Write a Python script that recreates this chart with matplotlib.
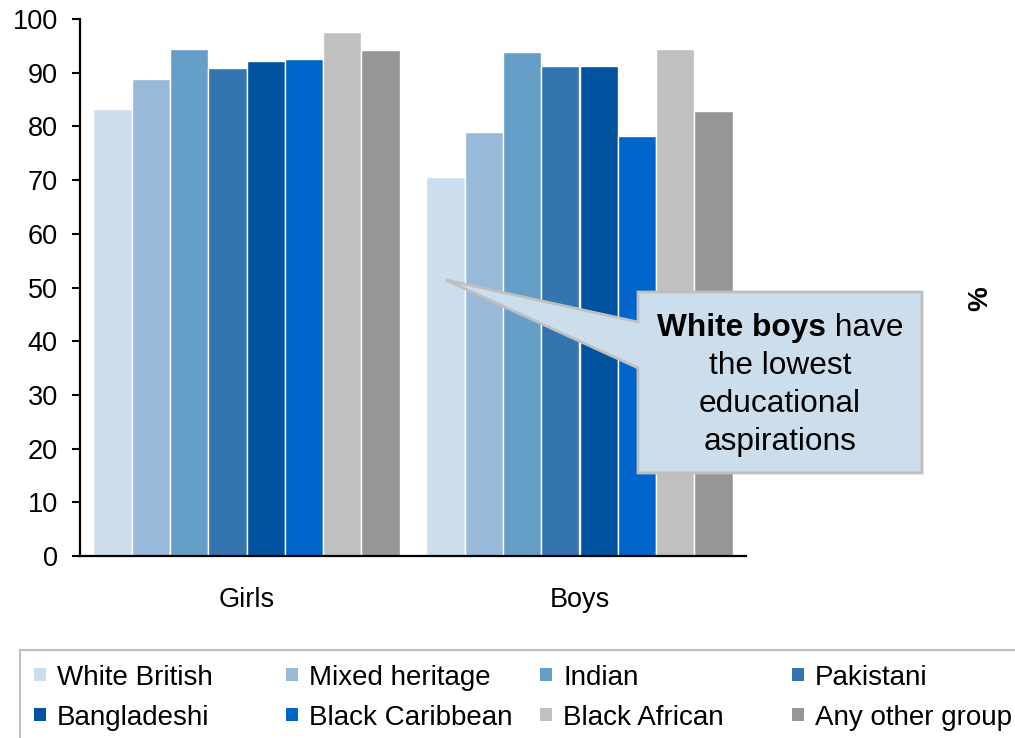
import matplotlib
matplotlib.use("Agg")
import matplotlib.pyplot as plt
from matplotlib.patches import Polygon, Rectangle

plt.rcParams['font.family'] = ['Liberation Sans', 'DejaVu Sans']

# Data
groups = ["Girls", "Boys"]
ethnicities = ["White British", "Mixed heritage", "Indian", "Pakistani",
               "Bangladeshi", "Black Caribbean", "Black African", "Any other group"]
girls = [83.2, 88.8, 94.5, 90.9, 92.2, 92.6, 97.5, 94.2]
boys = [70.6, 78.9, 93.9, 91.2, 91.2, 78.2, 94.5, 82.9]
colors = ["#CCDDEB", "#99B9D8", "#659EC7", "#3474B0",
          "#00539F", "#0066CC", "#C0C0C0", "#969696"]
y_ticks = list(range(0, 101, 10))

W, H = 1015, 738
fig = plt.figure(figsize=(W / 100, H / 100), dpi=100)


def fx(x):
    return x / W


def fy(y):
    return 1 - y / H


ax = fig.add_axes([fx(80), fy(556), fx(746) - fx(80), fy(19) - fy(556)])

bar_w = 0.115
series = [girls, boys]
for i, name in enumerate(ethnicities):
    xs = [g + (i - 3.5) * bar_w for g in range(len(groups))]
    vals = [s[i] for s in series]
    ax.bar(xs, vals, width=bar_w, color=colors[i], edgecolor="white",
           linewidth=1.0, label=name, zorder=2)

ax.set_xlim(-0.5, 1.5)
ax.set_ylim(0, 100)
ax.set_yticks(y_ticks)
ax.set_xticks(range(len(groups)))
ax.set_xticklabels(groups)
ax.tick_params(axis="y", labelsize=19.5, length=6, width=1.5, pad=10, direction="out")
ax.tick_params(axis="x", labelsize=19.5, length=0, pad=22)
for side in ("top", "right"):
    ax.spines[side].set_visible(False)
for side in ("left", "bottom"):
    ax.spines[side].set_linewidth(1.6)
    ax.spines[side].set_color("black")

# Unit label on the right
fig.text(fx(980), fy(299), "%", rotation=90, fontsize=20, fontweight="bold",
         ha="center", va="center")

# Callout box with pointer
pts = [(446, 280), (638, 322), (638, 292), (922, 292), (922, 473),
       (638, 473), (638, 368)]
callout = Polygon([(fx(x), fy(y)) for x, y in pts], closed=True,
                  transform=fig.transFigure, facecolor="#CCDDEB",
                  edgecolor="#BFBFBF", linewidth=2, zorder=5)
fig.add_artist(callout)

cx = 780
fs_call = 22.8
renderer = fig.canvas.get_renderer()
t_bold = fig.text(0, fy(328), "White boys", fontsize=fs_call, fontweight="bold",
                  ha="left", va="center", zorder=6)
t_reg = fig.text(0, fy(328), " have", fontsize=fs_call,
                 ha="left", va="center", zorder=6)
wb = t_bold.get_window_extent(renderer).width
wr = t_reg.get_window_extent(renderer).width
x0 = cx - (wb + wr) / 2
t_bold.set_x(fx(x0))
t_reg.set_x(fx(x0 + wb))
for line, y in [("the lowest", 366), ("educational", 404), ("aspirations", 442)]:
    fig.text(fx(cx), fy(y), line, fontsize=fs_call, ha="center", va="center", zorder=6)

# Legend drawn as a framed grid of swatches
frame = Rectangle((fx(20), fy(790)), fx(1060) - fx(20), fy(650) - fy(790),
                  transform=fig.transFigure, facecolor="white",
                  edgecolor="#BFBFBF", linewidth=1.5, zorder=3)
fig.add_artist(frame)
col_text_x = [57, 309, 563, 815]
row_base_y = [685, 725]
for i, name in enumerate(ethnicities):
    r, c = divmod(i, 4)
    tx = col_text_x[c]
    by = row_base_y[r]
    sw = Rectangle((fx(tx - 23), fy(by - 4)), fx(12), fy(0) - fy(13),
                   transform=fig.transFigure, facecolor=colors[i],
                   edgecolor="none", zorder=4)
    fig.add_artist(sw)
    fig.text(fx(tx), fy(by), name, fontsize=20, ha="left", va="baseline", zorder=4)

fig.savefig("out.png", dpi=100)
